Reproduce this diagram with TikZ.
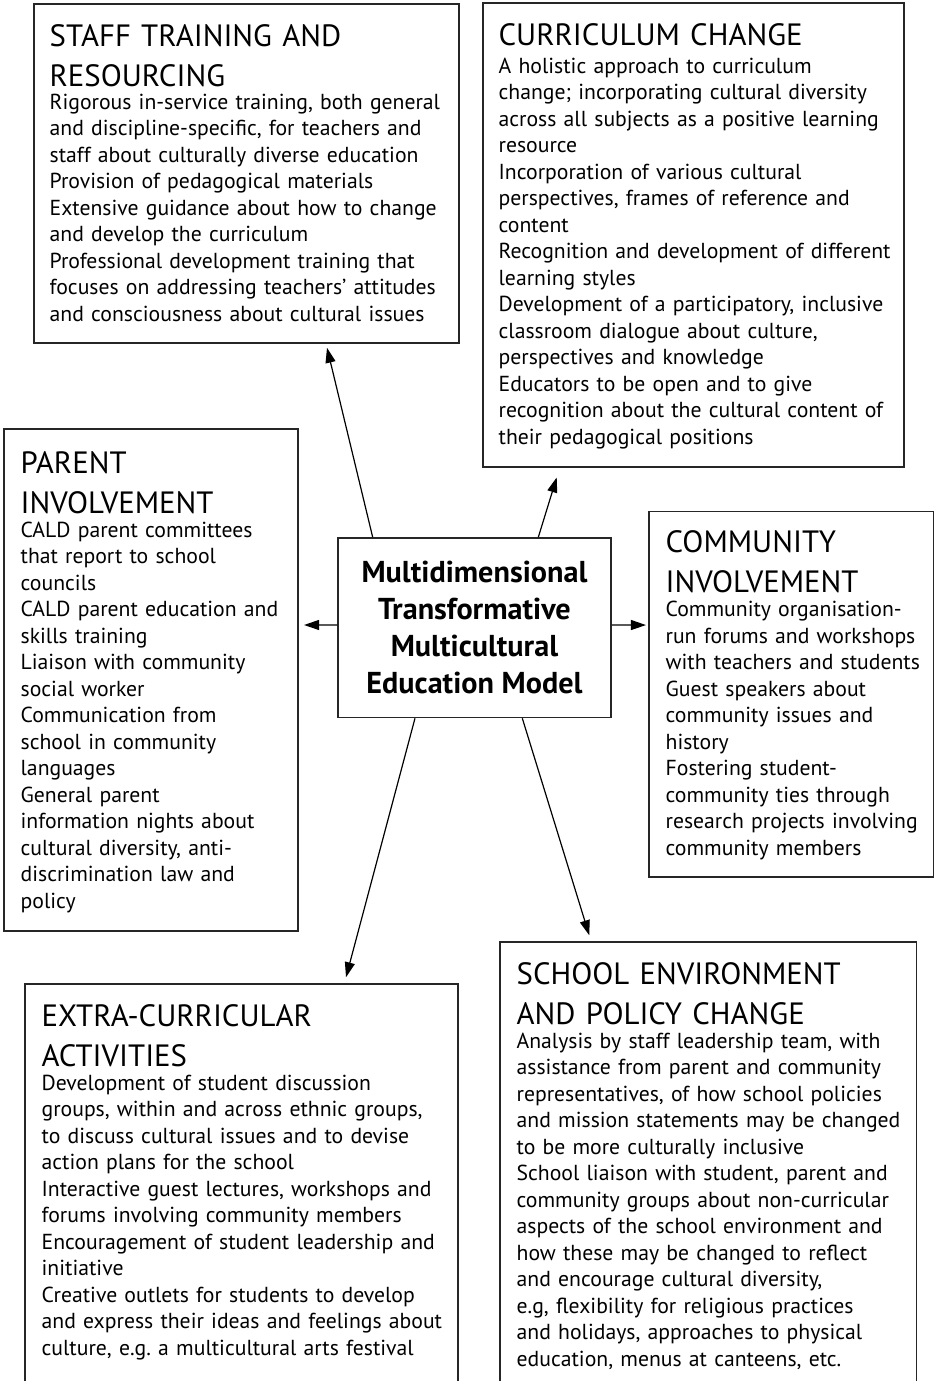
\documentclass[tikz,border=0pt]{standalone}
\usepackage{fontspec}
\setmainfont{PT Sans}
\usetikzlibrary{arrows.meta}
\newcommand\headfnt{\fontsize{15.4}{20}\selectfont}
\newcommand\bodyfnt{\fontsize{10.85}{13.25}\selectfont\frenchspacing}
\newcommand\ctrfnt{\fontsize{15.1}{18.5}\selectfont\bfseries}
\begin{document}
\begin{tikzpicture}[x=0.5pt,y=-0.5pt,
    box/.style={draw=black!85, line width=0.75pt, inner sep=0pt},
    head/.style={anchor=base west, inner sep=0pt, align=left, text width=215pt, font=\headfnt},
    body/.style={anchor=base west, inner sep=0pt, align=left, text width=215pt, font=\bodyfnt},
    arr/.style={-{Triangle[length=7.5pt,width=5pt]}, line width=0.6pt}]
    \useasboundingbox (0,0) rectangle (938,1381);
    % the six fields and the model in the middle
    \node[box, minimum width=212.5pt, minimum height=169.5pt] (staff) at (246.5,173.5) {};
    \node[box, minimum width=210.5pt, minimum height=232pt] (curric) at (693.5,235) {};
    \node[box, minimum width=147pt, minimum height=251pt] (parent) at (151,680) {};
    \node[box, minimum width=142.25pt, minimum height=182.75pt] (commun) at (791.25,694.25) {};
    \node[box, minimum width=216.5pt, minimum height=208pt] (extra) at (241.5,1192) {};
    \node[box, minimum width=208.25pt, minimum height=229pt] (school) at (708.25,1171) {};
    \node[box, minimum width=136.5pt, minimum height=89.75pt, align=center, font=\ctrfnt] (model) at (474.5,627.75)
        {Multidimensional\\Transformative\\Multicultural\\Education Model};

    \node[head] (staffH) at ([xshift=8pt,yshift=-21.5pt]staff.north west) {STAFF TRAINING AND\\RESOURCING};
    \node[body] (staffB) at ([yshift=-11pt]staffH.south west) {Rigorous in-service training, both general\\
        and discipline-specific, for teachers and\\staff about culturally diverse education\\
        Provision of pedagogical materials\\Extensive guidance about how to change\\
        and develop the curriculum\\Professional development training that\\
        focuses on addressing teachers' attitudes\\and consciousness about cultural issues};

    \node[head] (curricH) at ([xshift=8pt,yshift=-21.5pt]curric.north west) {CURRICULUM CHANGE};
    \node[body] (curricB) at ([yshift=-13.5pt]curricH.south west) {A holistic approach to curriculum\\
        change; incorporating cultural diversity\\across all subjects as a positive learning\\resource\\
        Incorporation of various cultural\\perspectives, frames of reference and\\content\\
        Recognition and development of different\\learning styles\\
        Development of a participatory, inclusive\\classroom dialogue about culture,\\
        perspectives and knowledge\\Educators to be open and to give\\
        recognition about the cultural content of\\their pedagogical positions};

    \node[head] (parentH) at ([xshift=8.5pt,yshift=-22.5pt]parent.north west) {PARENT\\INVOLVEMENT};
    \node[body] (parentB) at ([yshift=-11.5pt]parentH.south west) {CALD parent committees\\
        that report to school\\councils\\CALD parent education and\\skills training\\
        Liaison with community\\social worker\\Communication from\\school in community\\
        languages\\General parent\\information nights about\\cultural diversity, anti-\\
        discrimination law and\\policy};

    \node[head] (communH) at ([xshift=8.5pt,yshift=-21pt]commun.north west) {COMMUNITY\\INVOLVEMENT};
    \node[body] (communB) at ([yshift=-11.5pt]communH.south west) {Community organisation-\\
        run forums and workshops\\with teachers and students\\Guest speakers about\\
        community issues and\\history\\Fostering student-\\community ties through\\
        research projects involving\\community members};

    \node[head] (extraH) at ([xshift=8.5pt,yshift=-21.5pt]extra.north west) {EXTRA-CURRICULAR\\ACTIVITIES};
    \node[body] (extraB) at ([yshift=-11.5pt]extraH.south west) {Development of student discussion\\
        groups, within and across ethnic groups,\\to discuss cultural issues and to devise\\
        action plans for the school\\Interactive guest lectures, workshops and\\
        forums involving community members\\Encouragement of student leadership and\\
        initiative\\Creative outlets for students to develop\\
        and express their ideas and feelings about\\culture, e.g. a multicultural arts festival};

    \node[head] (schoolH) at ([xshift=8.5pt,yshift=-21.5pt]school.north west) {SCHOOL ENVIRONMENT\\AND POLICY CHANGE};
    \node[body] (schoolB) at ([yshift=-11.5pt]schoolH.south west) {Analysis by staff leadership team, with\\
        assistance from parent and community\\representatives, of how school policies\\
        and mission statements may be changed\\to be more culturally inclusive\\
        School liaison with student, parent and\\community groups about non-curricular\\
        aspects of the school environment and\\how these may be changed to reflect\\
        and encourage cultural diversity,\\e.g, flexibility for religious practices\\
        and holidays, approaches to physical\\education, menus at canteens, etc.};

    % arrows out of the model
    \draw[arr] ([xshift=-50.9pt]model.north) -- ([xshift=40.25pt,yshift=-2pt]staff.south);
    \draw[arr] ([xshift=31.9pt]model.north) -- ([xshift=-68.4pt,yshift=-4.85pt]curric.south);
    \draw[arr] ([yshift=1.4pt]model.west) -- ([xshift=2.65pt,yshift=27.5pt]parent.east);
    \draw[arr] ([yshift=1.4pt]model.east) -- ([xshift=-1.15pt,yshift=34.6pt]commun.west);
    \draw[arr] ([xshift=-29.75pt]model.south) -- ([xshift=52.25pt,yshift=3pt]extra.north);
    \draw[arr] ([xshift=23.9pt]model.south) -- ([xshift=-59.5pt,yshift=3pt]school.north);
\end{tikzpicture}
\end{document}
